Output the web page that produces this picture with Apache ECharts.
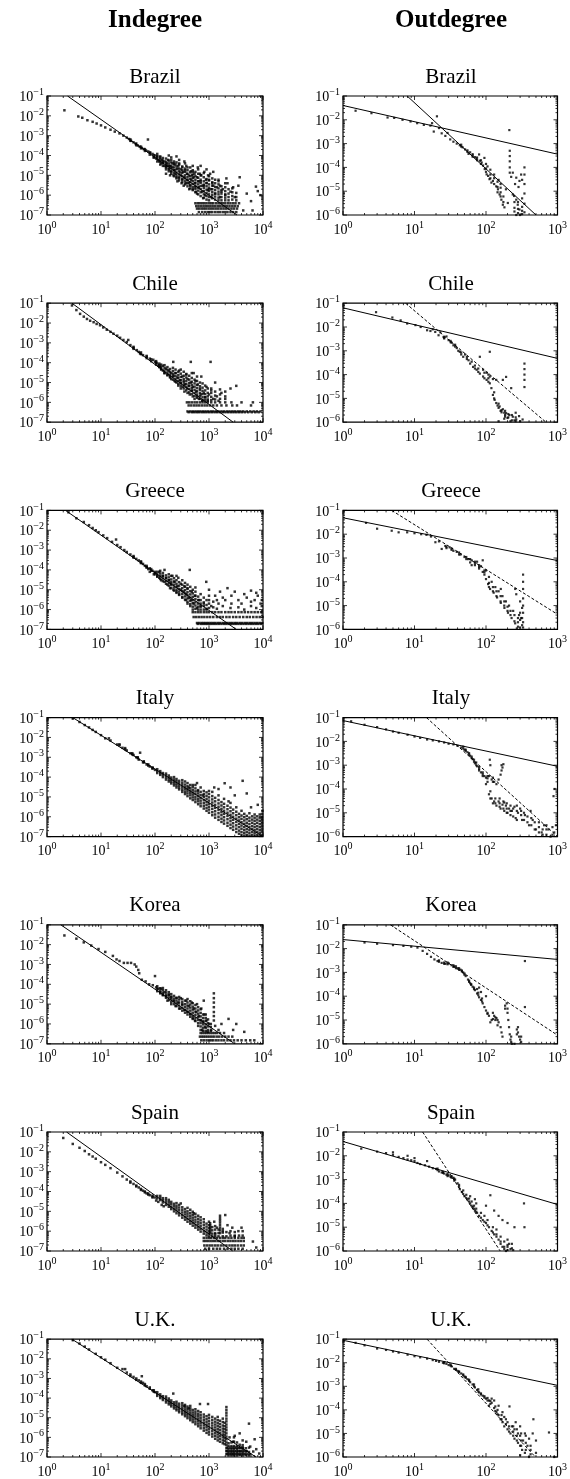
<!DOCTYPE html>
<html><head><meta charset="utf-8">
<script src="https://cdn.jsdelivr.net/npm/echarts@6/dist/echarts.min.js"></script>
<style>html,body{margin:0;padding:0;background:#fff}#c{width:570px;height:1479px}</style>
</head><body><div id="c"></div>
<script>
// ---------- labels ----------
const countries = ['Brazil','Chile','Greece','Italy','Korea','Spain','U.K.'];
const columnTitles = ['Indegree','Outdegree'];
const inTicksX = [1,10,100,1000,10000];
const inTicksY = [1e-7,1e-6,1e-5,1e-4,1e-3,1e-2,1e-1];
const outTicksX = [1,10,100,1000];
const outTicksY = [1e-6,1e-5,1e-4,1e-3,1e-2,1e-1];

// ---------- Brazil ----------
const brazilInPts = [[2.1,1.9e-2],[3.8,9.3e-3],[4.5,8e-3],[5.6,6e-3],[7,5e-3],[8.3,4.1e-3],[10,3.3e-3],[12,2.6e-3],[15,2e-3],[18,1.6e-3],[22,1.3e-3],[26,1e-3],[30,8e-4],[33,6.8e-4],[36,5.5e-4],[40,4.6e-4],[44,3.8e-4],[48,3.2e-4],[52,2.8e-4],[57,2.4e-4],[62,2.1e-4],[68,1.8e-4],[74,6.4e-4],[75,1.6e-4],[82,1.4e-4],[90,1.2e-4],[95,8e-5],[100,1e-4],[105,7e-5],[110,9e-5],[115,6e-5],[120,5e-5],[125,8e-5],[130,4e-5],[135,6e-5],[140,4.5e-5],[150,3e-5],[150,5e-5],[160,2.5e-5],[160,1.2e-5],[165,4e-5],[170,3e-5],[175,6e-5],[180,2e-5],[180,1e-4],[190,3e-5],[190,1e-5],[200,1.5e-5],[200,6e-5],[210,2.5e-5],[210,4e-5],[220,1e-5],[225,4e-5],[230,1.8e-5],[240,1.2e-5],[240,3.5e-5],[250,8e-6],[250,9e-5],[260,2.2e-5],[260,5e-6],[270,3e-5],[280,7e-6],[280,4e-5],[290,1.4e-5],[300,1e-5],[300,2e-5],[310,4e-6],[320,6e-6],[320,2.5e-5],[330,1.5e-5],[340,3e-6],[350,8e-6],[350,5e-5],[360,1.8e-5],[370,4e-6],[380,3e-5],[390,1.2e-5],[400,6e-6],[400,2.5e-5],[420,1e-5],[420,4e-6],[430,2e-6],[450,3e-6],[460,1.6e-5],[470,6e-6],[480,1e-5],[500,2e-6],[500,1.5e-5],[500,3e-5],[520,8e-6],[540,1.2e-5],[550,4e-6],[560,2.5e-6],[570,1.5e-6],[600,1.2e-6],[600,8e-6],[620,2.5e-5],[640,5e-6],[650,2.5e-6],[680,1.2e-5],[700,5e-6],[700,3e-5],[720,1e-5],[750,1.5e-6],[760,3e-6],[780,7e-7],[800,3e-6],[820,1.5e-5],[850,1e-6],[880,6e-6],[900,2e-5],[900,4e-6],[950,1.8e-6],[960,1e-5],[1000,2e-6],[1000,6e-6],[1050,1.2e-5],[1100,8e-7],[1100,2e-6],[1150,4e-6],[1200,3e-6],[1200,1.5e-5],[1300,1.2e-6],[1300,6e-6],[1400,2.5e-6],[1500,5e-6],[1600,8e-7],[1600,3e-6],[1700,1.5e-6],[1800,2e-6],[2000,1e-6],[2100,7e-6],[2200,4e-6],[2500,1.5e-6],[2800,2.5e-6],[3000,8e-7],[3500,3e-6],[3700,8e-6],[4300,1.7e-7],[5000,1.2e-6],[6000,5e-7],[6400,1.7e-7],[7400,2.7e-6],[8000,1.6e-6],[9000,1e-6]];
const brazilInRows = [[3.9e-7,[560,620,680,750,820,900,1000,1100,1200,1350,1500,1650,1800,2000,2250,2500,2800,3100,3600]],[2.8e-7,[580,640,710,790,870,960,1060,1170,1300,1450,1600,1780,1950,2150,2400,2700,3000,3400]],[2.1e-7,[600,660,730,800,880,980,1080,1200,1330,1480,1650,1850,2050,2300,2600,2900,3300]],[1.4e-7,[650,750,850,950,1050,1150,1300,1450,1600,1800,2000,2200,2500,2800,3200]]];
const brazilInCols = [[35,[5.5e-4,6.5e-4]],[45,[3.3e-4,4e-4]],[55,[2.3e-4,2.8e-4]],[65,[1.7e-4,2.1e-4]],[80,[1.1e-4,1.4e-4]],[95,[8e-5,1.05e-4]],[110,[5e-5,7e-5,9e-5,1.2e-4]],[125,[3.5e-5,5e-5,6.5e-5,9e-5]],[140,[3e-5,4e-5,5.5e-5,7.5e-5]],[160,[2e-5,2.8e-5,3.6e-5,4.8e-5,7e-5]],[180,[1.6e-5,2.2e-5,3e-5,4e-5,5.5e-5]],[200,[1.2e-5,1.7e-5,2.3e-5,3e-5,4.5e-5,8e-5]],[225,[9e-6,1.3e-5,1.8e-5,2.5e-5,3.5e-5,5e-5]],[250,[7e-6,1e-5,1.4e-5,2e-5,2.8e-5,4.5e-5]],[280,[5.5e-6,8e-6,1.1e-5,1.6e-5,2.2e-5,3.5e-5,6e-5]],[320,[4.5e-6,6.5e-6,9e-6,1.3e-5,1.8e-5,2.8e-5]],[360,[3.5e-6,5e-6,7e-6,1e-5,1.5e-5,2.2e-5,4e-5]],[400,[2.8e-6,4e-6,5.5e-6,8e-6,1.2e-5,1.8e-5]],[450,[2.2e-6,3.2e-6,4.5e-6,6.5e-6,9e-6,1.4e-5,2.5e-5]],[500,[1.8e-6,2.6e-6,3.7e-6,5.2e-6,7.5e-6,1.1e-5,1.8e-5]],[560,[1.4e-6,2.1e-6,3e-6,4.3e-6,6e-6,9e-6,1.5e-5]],[630,[1.1e-6,1.7e-6,2.4e-6,3.5e-6,5e-6,7.5e-6,1.2e-5,2e-5]],[700,[9e-7,1.4e-6,2e-6,2.9e-6,4.2e-6,6e-6,1e-5]],[800,[7.5e-7,1.1e-6,1.6e-6,2.3e-6,3.4e-6,5e-6,8e-6,1.3e-5]],[900,[6e-7,9e-7,1.3e-6,1.9e-6,2.8e-6,4.2e-6,6.5e-6]],[1000,[5.5e-7,8e-7,1.1e-6,1.6e-6,2.4e-6,3.5e-6,5.5e-6,9e-6]],[1150,[7e-7,1e-6,1.4e-6,2e-6,3e-6,4.5e-6,7e-6]],[1300,[6e-7,8.5e-7,1.2e-6,1.8e-6,2.6e-6,4e-6]],[1500,[5.5e-7,7.5e-7,1.1e-6,1.5e-6,2.2e-6,3.5e-6,6e-6]],[1700,[5.5e-7,8e-7,1.2e-6,1.8e-6,2.8e-6]],[2000,[5.5e-7,7.5e-7,1.1e-6,1.6e-6,2.5e-6,4e-6]],[2300,[5.5e-7,8e-7,1.2e-6,2e-6]],[2700,[6e-7,9e-7,1.4e-6,2.2e-6]],[3200,[5.5e-7,8e-7,1.3e-6]]];
const brazilInFit = [[2.4,0.1],[3300,1e-7]];
const brazilOutPts = [[1.5,2.4e-2],[2.5,1.9e-2],[4.2,1.25e-2],[5.2,1.2e-2],[6.8,1e-2],[8.8,8.5e-3],[10.9,7.2e-3],[13.5,6.1e-3],[16.7,5.7e-3],[17.6,7.2e-3],[18.6,3.2e-3],[20.6,1.4e-2],[22,4.5e-3],[24,2.7e-3],[27,2.1e-3],[29,2.8e-3],[31.6,1.5e-3],[35,1.2e-3],[39,1e-3],[43,8.5e-4],[47,7e-4],[51,5.7e-4],[57,3.7e-4],[60,4.3e-4],[65,3.2e-4],[70,2.7e-4],[74,2.3e-4],[80,3.5e-4],[82,1.9e-4],[87,1.6e-4],[91,1.2e-4],[95,2.5e-4],[96,8.5e-5],[102,5.1e-5],[105,1.1e-4],[107,4.4e-5],[112,3.2e-5],[115,8e-5],[119,2.3e-5],[125,2.7e-5],[130,5e-5],[139,1.6e-5],[147,1.2e-5],[150,3e-5],[155,7.3e-6],[160,2e-5],[164,4.4e-6],[172,2.7e-6],[181,2.1e-6],[190,1.2e-5],[202,3.2e-6],[212,3.7e-3],[215,5e-4],[215,3e-4],[215,1.8e-4],[215,1e-4],[215,6e-5],[225,4e-5],[237,7.3e-6],[237,6e-5],[247,6.3e-6],[255,2e-5],[265,4.4e-6],[265,3.7e-5],[265,1e-6],[278,2.7e-6],[285,1.5e-5],[294,1.7e-6],[294,2.7e-5],[300,1e-6],[310,5e-5],[320,3e-5],[345,1e-4],[345,5e-5],[345,2e-5],[345,8e-6],[345,3e-6],[345,1.3e-6]];
const brazilOutCols = [[45,[7.5e-4,9e-4]],[55,[4.5e-4,5.2e-4]],[65,[2.8e-4,3.6e-4]],[75,[2e-4,2.6e-4]],[85,[1.4e-4,2e-4]],[100,[6.5e-5,9e-5,1.4e-4]],[115,[3.5e-5,5e-5]],[130,[2e-5,3.5e-5]],[145,[9e-6,1.5e-5,2.5e-5]],[160,[6e-6,9e-6,1.4e-5]],[175,[3.5e-6,6e-6]],[250,[1.4e-6,2e-6,3.5e-6]],[280,[1.2e-6,1.8e-6,3.5e-6]],[320,[1.1e-6,1.5e-6,2.2e-6,5e-6]]];
const brazilOutFitA = [[1,4e-2],[1000,3.6e-4]];
const brazilOutFitB = [[7.9,0.1],[500,1e-6]];

// ---------- Chile ----------
const chileInPts = [[2.9,7.7e-2],[3.5,4.5e-2],[4.1,2.9e-2],[4.8,2.1e-2],[5.5,1.6e-2],[6.3,1.3e-2],[7.3,1.1e-2],[8.3,9e-3],[9.6,7.7e-3],[11,6e-3],[12.8,4.6e-3],[15,3.6e-3],[17,2.9e-3],[20,2.3e-3],[22.6,1.8e-3],[26,1.4e-3],[30,1.1e-3],[32,1.4e-3],[35,7.7e-4],[40,5.7e-4],[46,4.3e-4],[50,3.5e-4],[53,2.9e-4],[60,2.4e-4],[70,2e-4],[80,1.6e-4],[93,1.4e-4],[100,1.1e-4],[107,9.6e-5],[115,7e-5],[123,6.3e-5],[130,5e-5],[140,4e-5],[140,7e-5],[150,3e-5],[160,5e-5],[170,2.5e-5],[180,4e-5],[190,2e-5],[200,1.5e-5],[200,3e-5],[218,1.1e-4],[220,2.2e-5],[230,1.2e-5],[240,3e-5],[250,1e-5],[260,1.8e-5],[270,7e-6],[280,4e-5],[290,1.3e-5],[300,5e-6],[300,9e-6],[320,2e-5],[330,6e-6],[340,1.2e-5],[350,3.5e-6],[360,8e-6],[380,2.5e-5],[390,5e-6],[400,3e-6],[400,1.5e-5],[420,7e-6],[440,2.5e-6],[460,1.1e-4],[460,1e-5],[480,4e-6],[500,2e-6],[500,6e-6],[520,3e-5],[540,1.5e-6],[560,1.2e-5],[580,3.5e-6],[600,2e-6],[620,8e-6],[650,1.5e-6],[680,5e-6],[700,2.5e-6],[720,2e-5],[750,1.2e-6],[800,3e-6],[850,1.8e-6],[900,6e-6],[950,1.2e-6],[1000,2.5e-6],[1070,1.1e-4],[1100,4e-6],[1200,1.5e-6],[1300,1e-5],[1400,2e-6],[1500,1.2e-6],[1700,3e-6],[2000,1.5e-6],[2500,5e-6],[3200,6.8e-6],[4000,1e-6],[6000,7e-7],[6500,1e-6]];
const chileInRows = [[1e-6,[390,430,480,540,600,680,760,850,950,1100,1300,1600,2000,2600]],[7e-7,[420,470,530,590,660,740,830,930,1050,1200,1400,1700,2100,2700,3300]],[3.5e-7,[400,450,500,560,620,690,770,860,960,1080,1200,1350,1500,1700,1900,2150,2400,2700,3000,3400,3800,4300,5000,5800,6700,7700,9000]],[3.2e-7,[420,480,530,590,650,730,810,900,1010,1130,1270,1420,1600,1800,2020,2270,2550,2850,3200,3600,4050,4600,5300,6200,7200,8300]]];
const chileInCols = [[40,[5e-4,6.3e-4]],[55,[2.7e-4,3.3e-4]],[70,[1.7e-4,2.2e-4]],[85,[1.2e-4,1.5e-4]],[105,[8e-5,1e-4,1.2e-4]],[120,[6e-5,7.5e-5,9e-5]],[130,[4.5e-5,6e-5,8e-5]],[150,[3e-5,4e-5,5.5e-5,7.5e-5]],[170,[2.3e-5,3.2e-5,4.3e-5,6e-5]],[190,[1.8e-5,2.5e-5,3.4e-5,4.8e-5]],[215,[1.4e-5,2e-5,2.7e-5,3.8e-5,5.5e-5]],[240,[1.1e-5,1.5e-5,2.1e-5,3e-5,4.5e-5]],[270,[8.5e-6,1.2e-5,1.7e-5,2.4e-5,3.5e-5]],[300,[6.5e-6,9.5e-6,1.3e-5,1.9e-5,2.8e-5,4.5e-5]],[340,[5e-6,7.5e-6,1e-5,1.5e-5,2.2e-5,3.5e-5]],[380,[4e-6,6e-6,8.5e-6,1.2e-5,1.8e-5,2.7e-5]],[430,[3.2e-6,4.7e-6,6.7e-6,9.5e-6,1.4e-5,2.2e-5]],[480,[2.6e-6,3.8e-6,5.4e-6,7.7e-6,1.1e-5,1.7e-5,3e-5]],[540,[2.1e-6,3e-6,4.3e-6,6.2e-6,9e-6,1.4e-5]],[600,[1.7e-6,2.5e-6,3.6e-6,5.2e-6,7.5e-6,1.2e-5,2e-5]],[680,[1.5e-6,2.1e-6,3e-6,4.3e-6,6.5e-6,1e-5]],[760,[1.3e-6,1.8e-6,2.6e-6,3.8e-6,5.5e-6,9e-6]],[850,[1.3e-6,1.8e-6,2.6e-6,4e-6,7e-6]],[950,[1.4e-6,2e-6,3e-6,5e-6]],[1100,[1.3e-6,1.9e-6,3e-6,5e-6]],[1300,[1.4e-6,2.2e-6,3.5e-6]],[1600,[1.5e-6,2.5e-6,4.5e-6]],[2000,[2e-6,3.5e-6]]];
const chileInFit = [[2.9,0.1],[2800,1e-7]];
const chileOutPts = [[2.9,4.2e-2],[4.9,2.5e-2],[6.4,1.9e-2],[7.9,1.4e-2],[10.3,1.2e-2],[12.2,1e-2],[15,7.3e-3],[16.7,6.8e-3],[18,8e-3],[19.5,6.2e-3],[21.7,4.5e-3],[23,6e-3],[25.5,3.8e-3],[28,4e-3],[30,2.8e-3],[33,2.2e-3],[35,1.7e-3],[39,1.3e-3],[41,1e-3],[43,9.1e-4],[48,5.6e-4],[51,7e-4],[57,4e-4],[60,2.9e-4],[63,3.5e-4],[66,2.1e-4],[74,1.6e-4],[82,1.1e-4],[82,5.6e-4],[91,8.3e-5],[91,1.6e-4],[102,6e-5],[102,1.2e-4],[113,4.3e-5],[113,8.3e-5],[113,9.1e-4],[119,2.7e-5],[125,1.4e-5],[125,6.5e-5],[132,8.7e-6],[139,6.4e-6],[139,6e-5],[145,5e-6],[150,1.1e-6],[155,4.6e-6],[160,3e-6],[172,3.5e-6],[172,6e-5],[180,2.5e-6],[180,1.4e-6],[191,2.4e-6],[191,8e-5],[200,1.5e-6],[212,2e-6],[220,1.1e-6],[225,2.7e-5],[237,1.7e-6],[250,1.2e-6],[265,1.3e-6],[290,1.8e-6],[300,1.1e-6],[325,1.3e-6],[345,2.9e-4],[345,1.7e-4],[345,1e-4],[345,6e-5],[345,3e-5]];
const chileOutCols = [[26,[3.3e-3,3.6e-3]],[32,[2.3e-3,2.6e-3]],[37,[1.5e-3,1.8e-3]],[45,[7e-4,8.5e-4]],[54,[4.5e-4,5.5e-4]],[70,[1.8e-4,2.4e-4]],[78,[1.3e-4,1.8e-4]],[95,[7e-5,1.2e-4]],[108,[5e-5,7e-5,1e-4]],[130,[1e-5,1.8e-5]],[150,[4e-6,6e-6]],[165,[2.6e-6,3.2e-6]],[185,[1.7e-6,2e-6,3e-6]],[205,[1.6e-6,2.2e-6]],[230,[1.2e-6,2e-6]],[260,[1.1e-6,1.6e-6,2.5e-6]]];
const chileOutFitA = [[1,6.4e-2],[1000,4.8e-4]];
const chileOutFitB = [[7.5,0.1],[690,1e-6]];

// ---------- Greece ----------
const greeceInPts = [[2.5,8e-2],[3.5,4e-2],[4.8,2.6e-2],[6,1.8e-2],[7,1.3e-2],[8,1e-2],[9,8e-3],[11,5.5e-3],[13,4e-3],[16,2.6e-3],[19,3.4e-3],[20,1.8e-3],[23,1.4e-3],[27,1e-3],[30,8e-4],[35,6e-4],[40,4.5e-4],[45,3.6e-4],[50,3e-4],[55,2.4e-4],[60,2e-4],[65,1.6e-4],[70,1.4e-4],[75,1.1e-4],[80,1.2e-4],[80,8e-5],[90,9e-5],[95,6e-5],[100,7e-5],[110,5e-5],[120,4e-5],[120,8e-5],[130,3e-5],[140,5e-5],[150,2.5e-5],[150,1e-4],[160,4e-5],[170,1.8e-5],[180,3e-5],[190,1.2e-5],[200,2e-5],[210,5e-5],[220,1e-5],[230,2.5e-5],[250,8e-6],[260,1.5e-5],[270,4e-5],[280,6e-6],[300,1e-5],[300,2e-5],[320,4e-6],[340,8e-6],[350,1.5e-5],[370,3e-6],[380,6e-6],[400,2e-6],[400,1.2e-5],[420,4e-6],[440,1e-4],[450,1.5e-6],[470,3e-6],[480,8e-6],[500,1e-6],[520,2e-6],[550,5e-6],[600,1.2e-6],[650,3e-6],[700,1.5e-6],[800,2e-6],[890,2.5e-5],[900,1e-6],[1000,3e-6],[1000,1e-5],[1100,1.5e-6],[1300,5e-6],[1500,2e-6],[1600,8e-6],[2000,3e-6],[2200,1.2e-5],[2500,1.2e-6],[3000,8e-6],[4000,2e-6],[5000,4e-6],[6000,1.5e-6],[7000,3e-6],[8000,5e-6],[9000,2e-6]];
const greeceInRows = [[7.4e-7,[500,560,630,700,800,900,1000,1150,1300,1500,1700,2000,2300,2600,3000,3500,4000,4600,5300,6100,7000,8000,9200]],[4.2e-7,[520,580,650,730,820,930,1050,1200,1400,1600,1800,2100,2400,2800,3200,3700,4300,5000,5700,6600,7600,8700,9800]],[2.1e-7,[600,660,730,800,880,970,1070,1180,1300,1450,1600,1800,2000,2200,2450,2700,3000,3300,3700,4100,4600,5100,5700,6300,7000,7800,8700,9700]],[1.9e-7,[620,700,770,850,930,1020,1120,1240,1370,1520,1700,1900,2100,2330,2580,2850,3150,3500,3900,4350,4850,5400,6000,6650,7400,8200,9200]]];
const greeceInCols = [[40,[4.2e-4,5e-4]],[55,[2.2e-4,2.7e-4]],[70,[1.3e-4,1.6e-4]],[85,[9e-5,1.1e-4]],[100,[6e-5,8e-5]],[110,[4.5e-5,6e-5,8e-5]],[125,[3.5e-5,4.8e-5,6.5e-5,9e-5]],[140,[2.7e-5,3.7e-5,5e-5,7e-5]],[160,[2e-5,2.8e-5,3.8e-5,5.3e-5]],[180,[1.6e-5,2.2e-5,3e-5,4.2e-5,6e-5]],[200,[1.2e-5,1.7e-5,2.4e-5,3.3e-5,5e-5]],[225,[9e-6,1.3e-5,1.8e-5,2.6e-5,3.8e-5]],[250,[7e-6,1e-5,1.4e-5,2e-5,3e-5,5e-5]],[280,[5.5e-6,8e-6,1.1e-5,1.6e-5,2.4e-5]],[320,[4.2e-6,6e-6,8.5e-6,1.2e-5,1.8e-5,3e-5]],[360,[3.2e-6,4.6e-6,6.5e-6,9.5e-6,1.4e-5,2.2e-5]],[400,[2.5e-6,3.6e-6,5.2e-6,7.5e-6,1.1e-5,1.8e-5]],[450,[1.9e-6,2.8e-6,4e-6,5.8e-6,8.5e-6,1.4e-5]],[500,[1.4e-6,2.1e-6,3e-6,4.4e-6,6.5e-6,1e-5]],[560,[1.1e-6,1.6e-6,2.3e-6,3.4e-6,5e-6,8e-6,1.3e-5]],[630,[1e-6,1.4e-6,2e-6,3e-6,4.5e-6]],[700,[1e-6,1.4e-6,2e-6,3e-6,6e-6]],[800,[1e-6,1.5e-6,2.3e-6,4e-6]],[900,[1.1e-6,1.7e-6,3e-6]],[1000,[1.2e-6,2e-6,5e-6]],[1200,[1.3e-6,2.5e-6]],[1400,[1.1e-6,3e-6]],[1800,[1.5e-6,4e-6]],[2600,[2e-6,5e-6]],[3500,[1.3e-6,3e-6]],[4500,[1e-6,6e-6]],[6000,[2.5e-6,9e-6]],[7500,[1.2e-6,7e-6]],[9500,[3e-6,1.5e-6]]];
const greeceInFit = [[2.2,0.1],[3200,1e-7]];
const greeceOutPts = [[2.1,3e-2],[3,1.7e-2],[4.8,1.4e-2],[6,1.2e-2],[7.9,1.2e-2],[10,1.1e-2],[12.4,1e-2],[14.7,9.4e-3],[17,8e-3],[19.6,4.6e-3],[22,5e-3],[24,2.4e-3],[27,3.2e-3],[31,2.8e-3],[35,2e-3],[39,1.8e-3],[44,1.4e-3],[50,1.1e-3],[56,9e-4],[63,8e-4],[63,5e-4],[70,5e-4],[75,7e-4],[80,3.6e-4],[85,4.5e-4],[90,2.6e-4],[90,8e-4],[95,2e-4],[100,1.3e-4],[100,3e-4],[107,8e-5],[114,5e-5],[120,1e-4],[128,3.5e-5],[135,6e-5],[143,2.2e-5],[150,4e-5],[161,1.3e-5],[161,5e-5],[170,2.5e-5],[181,8e-6],[190,1.5e-5],[203,5e-6],[210,1e-5],[228,3e-6],[240,6e-6],[256,1.8e-6],[256,5e-5],[265,3e-5],[270,1.1e-6],[280,2e-6],[290,4e-6],[300,1.5e-5],[300,1.2e-6],[310,3e-6],[320,8e-6],[330,2e-4],[330,1e-4],[330,5e-5],[330,2e-5],[330,1e-5],[330,5e-6],[330,2e-6],[330,1.2e-6]];
const greeceOutCols = [[28,[2.6e-3,3e-3]],[33,[2.2e-3,2.5e-3]],[42,[1.4e-3,1.7e-3]],[53,[9e-4,1.1e-3]],[60,[6.5e-4,9e-4]],[70,[6e-4,7e-4]],[80,[4.2e-4,5e-4]],[95,[2.5e-4,3e-4]],[110,[6e-5,9e-5,1.6e-4]],[125,[4e-5,6e-5]],[140,[2.5e-5,4e-5]],[160,[1.5e-5,2.5e-5]],[180,[1e-5,1.5e-5]],[200,[6e-6,9e-6]],[220,[4e-6,6e-6]],[250,[2.2e-6,4e-6]],[280,[1.3e-6,3e-6]],[300,[2.5e-6,5e-6]],[320,[3e-6,1.5e-6]]];
const greeceOutFitA = [[1,4.9e-2],[1000,7.8e-4]];
const greeceOutFitB = [[4.8,0.1],[1000,4.3e-6]];

// ---------- Italy ----------
const italyInPts = [[3,9e-2],[4,6e-2],[5,4.2e-2],[6,3.2e-2],[7,2.4e-2],[8,1.9e-2],[10,1.3e-2],[12,9e-3],[14,9e-3],[15,7e-3],[20,4.4e-3],[25,3e-3],[30,2.2e-3],[35,1.6e-3],[40,1.3e-3],[45,1e-3],[53,1.7e-3],[50,7.6e-4],[60,5.6e-4],[70,4.3e-4],[80,3.4e-4],[90,2.8e-4],[100,2.3e-4],[420,3e-5],[500,4e-5],[600,5e-5],[620,2e-5],[700,3e-5],[780,1.2e-5],[1000,2e-5],[1250,3e-5],[1500,2.5e-5],[1950,4.9e-5],[2300,6e-6],[2500,3e-5],[4200,6.5e-5],[5000,1.5e-5],[8000,4e-6],[9800,2e-6],[3000,1.2e-5],[6000,3e-6]];
const italyInCols = [[22,[4e-3,4.5e-3]],[28,[2.5e-3,2.9e-3]],[38,[1.4e-3,1.6e-3]],[48,[9e-4,1e-3]],[62,[5.5e-4,6.3e-4]],[75,[3.8e-4,4.4e-4]],[90,[2.7e-4,3.1e-4]],[110,[1.6e-4,2e-4,2.5e-4]],[125,[1.3e-4,1.6e-4,2e-4]],[140,[1e-4,1.3e-4,1.6e-4]],[160,[7.5e-5,9.5e-5,1.2e-4,1.5e-4]],[180,[6e-5,7.5e-5,9.5e-5,1.2e-4]],[200,[4.8e-5,6e-5,7.5e-5,9.5e-5]],[225,[3.8e-5,4.8e-5,6e-5,7.6e-5,1e-4]],[250,[3e-5,3.8e-5,4.8e-5,6.2e-5,8e-5]],[280,[2.4e-5,3e-5,3.8e-5,5e-5,6.5e-5]],[320,[1.8e-5,2.3e-5,3e-5,3.9e-5,5.2e-5,7e-5]],[360,[1.4e-5,1.8e-5,2.4e-5,3.1e-5,4.2e-5,6e-5]],[400,[1.1e-5,1.5e-5,2e-5,2.6e-5,3.5e-5,5e-5]],[450,[8.5e-6,1.2e-5,1.6e-5,2.1e-5,2.8e-5,4e-5]],[500,[7e-6,9.5e-6,1.3e-5,1.7e-5,2.3e-5,3.2e-5]],[560,[5.5e-6,7.5e-6,1e-5,1.4e-5,1.9e-5,2.7e-5,4e-5]],[630,[4.3e-6,6e-6,8e-6,1.1e-5,1.5e-5,2.2e-5]],[700,[3.4e-6,4.7e-6,6.5e-6,9e-6,1.25e-5,1.8e-5]],[800,[2.6e-6,3.6e-6,5e-6,7e-6,1e-5,1.4e-5,2e-5]],[900,[2e-6,2.8e-6,4e-6,5.6e-6,8e-6,1.15e-5,1.7e-5]],[1000,[1.6e-6,2.3e-6,3.2e-6,4.5e-6,6.5e-6,9.5e-6,1.4e-5]],[1150,[1.2e-6,1.7e-6,2.5e-6,3.6e-6,5.2e-6,7.5e-6,1.1e-5,1.8e-5]],[1300,[9e-7,1.3e-6,1.9e-6,2.8e-6,4e-6,6e-6,9e-6]],[1500,[7e-7,1e-6,1.5e-6,2.2e-6,3.2e-6,4.7e-6,7e-6,1.2e-5]],[1700,[5.5e-7,8e-7,1.2e-6,1.7e-6,2.5e-6,3.7e-6,5.5e-6]],[1900,[4.5e-7,6.5e-7,9.5e-7,1.4e-6,2e-6,3e-6,4.5e-6,8e-6]],[2200,[3.5e-7,5e-7,7.5e-7,1.1e-6,1.6e-6,2.4e-6,3.6e-6]],[2500,[2.7e-7,4e-7,6e-7,8.5e-7,1.25e-6,1.9e-6,2.9e-6,5e-6]],[2800,[2.2e-7,3.2e-7,4.7e-7,7e-7,1e-6,1.5e-6,2.3e-6]],[3200,[1.7e-7,2.5e-7,3.7e-7,5.5e-7,8e-7,1.2e-6,1.8e-6,3e-6]],[3600,[1.4e-7,2e-7,3e-7,4.4e-7,6.5e-7,9.5e-7,1.4e-6]],[4000,[1.2e-7,1.7e-7,2.5e-7,3.6e-7,5.3e-7,7.8e-7,1.15e-6,2e-6]],[4500,[1.1e-7,1.5e-7,2.1e-7,3e-7,4.4e-7,6.5e-7,9.5e-7,1.4e-6]],[5000,[1.2e-7,1.7e-7,2.4e-7,3.5e-7,5e-7,7.5e-7,1.1e-6]],[5600,[1.1e-7,1.5e-7,2.1e-7,3e-7,4.3e-7,6.3e-7,9e-7,1.5e-6]],[6300,[1.2e-7,1.7e-7,2.4e-7,3.4e-7,5e-7,7.2e-7,1.05e-6]],[7000,[1.1e-7,1.5e-7,2.1e-7,3e-7,4.3e-7,6.3e-7,9e-7,1.3e-6]],[7800,[1.2e-7,1.7e-7,2.4e-7,3.4e-7,5e-7,7.2e-7,1.05e-6]],[8700,[1.1e-7,1.5e-7,2.1e-7,3e-7,4.3e-7,6.3e-7,9e-7,1.3e-6]],[9600,[1.2e-7,1.7e-7,2.4e-7,3.4e-7,5e-7,7.2e-7,1e-6,1.4e-6]]];
const italyInFit = [[3,0.1],[10000,1e-7]];
const italyOutPts = [[1.3,7e-2],[2,5e-2],[3,4e-2],[4,3.2e-2],[5,2.6e-2],[6,2.3e-2],[8,1.9e-2],[10,1.6e-2],[12,1.4e-2],[15,1.2e-2],[18,1.1e-2],[22,1e-2],[26,9e-3],[30,8e-3],[35,7.5e-3],[40,6.5e-3],[45,5.5e-3],[50,4.5e-3],[55,3.5e-3],[60,2.5e-3],[65,1.8e-3],[70,1.2e-3],[75,9e-4],[80,7e-4],[85,5e-4],[90,4.2e-4],[95,3.5e-4],[100,3e-4],[110,3.5e-4],[113,1.7e-3],[115,1e-3],[120,2.5e-4],[130,2e-4],[140,1.6e-4],[150,2.5e-4],[160,4e-4],[170,8e-4],[175,1.1e-3],[100,1.6e-4],[110,6e-5],[120,4e-5],[125,2.5e-5],[130,3e-5],[140,2e-5],[150,3e-5],[160,1.5e-5],[170,2.2e-5],[180,1.2e-5],[180,2.7e-5],[190,2e-5],[200,1e-5],[210,1.5e-5],[220,8e-6],[230,1.2e-5],[250,1.8e-5],[260,6e-6],[280,1e-5],[300,1.5e-5],[320,5e-6],[350,8e-6],[400,3e-6],[420,1.2e-5],[450,5e-6],[500,2e-6],[550,4e-6],[600,1.5e-6],[650,3e-6],[700,1.2e-6],[750,2e-6],[800,1e-6],[900,1.5e-6],[910,1e-4],[950,3e-6],[880,5e-5]];
const italyOutCols = [[48,[5e-3,6e-3]],[52,[4e-3,4.5e-3]],[58,[2.8e-3,3.2e-3]],[63,[2e-3,2.3e-3]],[68,[1.4e-3,1.7e-3]],[73,[1e-3,1.3e-3]],[80,[6e-4,8.5e-4]],[90,[3.5e-4,5e-4]],[105,[2e-4,2.8e-4,3.5e-4]],[125,[2e-4,3e-4]],[165,[6e-4,1e-3]],[115,[4e-5,8e-5]],[135,[2.5e-5,4e-5]],[155,[1.8e-5,2.5e-5,4e-5]],[175,[1.5e-5,3e-5]],[195,[1e-5,1.5e-5,2.5e-5]],[220,[1.2e-5,2e-5]],[240,[7e-6,1.5e-5]],[270,[5e-6,1.2e-5,2e-5]],[310,[8e-6,1.2e-5]],[340,[5e-6,1e-5]],[380,[4e-6,7e-6]],[430,[3e-6,6e-6]],[480,[2e-6,4e-6]],[550,[1.5e-6,2.5e-6]],[620,[1.2e-6,2e-6]],[700,[2e-6,3e-6]],[850,[1.2e-6,2.5e-6]]];
const italyOutFitA = [[1,7.5e-2],[1000,9e-4]];
const italyOutFitB = [[14.7,0.1],[1000,1e-6]];

// ---------- Korea ----------
const koreaInPts = [[2.1,2.9e-2],[3.5,2e-2],[4.8,1.3e-2],[6.6,9e-3],[9,6e-3],[12,4.3e-3],[16.6,2.7e-3],[19.4,1.8e-3],[22,1.5e-3],[26.5,1.2e-3],[31,1.2e-3],[36,1.2e-3],[42,1e-3],[45,7.8e-4],[49,5.3e-4],[51,3.6e-4],[57,1.7e-4],[67,1.4e-4],[78,1e-4],[91,9e-5],[100,2.6e-4],[105,7e-5],[115,6e-5],[125,4e-5],[130,6e-5],[140,3e-5],[150,4e-5],[160,2.5e-5],[170,1.5e-5],[180,3e-5],[200,2.2e-5],[200,1e-5],[220,1.5e-5],[240,8e-6],[250,2e-5],[270,1.2e-5],[290,6e-6],[300,2e-5],[320,1e-5],[350,5e-6],[380,1.5e-5],[400,4e-6],[420,8e-6],[450,3e-6],[480,1.2e-5],[500,2e-6],[520,6e-6],[550,1.5e-6],[580,4e-6],[600,1e-5],[630,8e-7],[650,2.5e-6],[700,1.5e-6],[720,6e-6],[750,5e-7],[780,1.2e-6],[800,1.5e-5],[820,3e-6],[850,7e-7],[900,1.5e-6],[950,4e-7],[1000,1e-6],[1100,5e-7],[1230,3.5e-5],[1230,2e-5],[1230,1.2e-5],[1230,7e-6],[1230,4e-6],[1230,2.5e-6],[1230,1.5e-6],[1300,8e-7],[1500,5e-7],[1700,1e-6],[2300,1.8e-6],[3200,1e-6],[2800,5e-7],[4500,4e-7],[6900,1.5e-7]];
const koreaInRows = [[3.5e-7,[700,760,830,900,980,1070,1170,1280,1400,1600,1900]],[2.3e-7,[680,740,800,870,950,1040,1140,1250,1400,1550,1750,2000,2300,2700]],[1.5e-7,[720,800,900,1000,1100,1200,1350,1500,1700,1900,2200,2500,2900,3400,4000,4800,5800]]];
const koreaInCols = [[110,[4.5e-5,6e-5,8e-5]],[125,[3.5e-5,4.7e-5,6.3e-5]],[140,[2.8e-5,3.7e-5,5e-5,6.5e-5]],[160,[2.1e-5,2.8e-5,3.8e-5,5e-5]],[180,[1.6e-5,2.2e-5,3e-5,4e-5]],[200,[1.3e-5,1.8e-5,2.4e-5,3.2e-5]],[225,[1e-5,1.4e-5,1.9e-5,2.6e-5]],[250,[8e-6,1.1e-5,1.5e-5,2.1e-5]],[280,[6e-6,8.5e-6,1.2e-5,1.7e-5,2.3e-5]],[320,[4.7e-6,6.5e-6,9e-6,1.3e-5,1.8e-5]],[360,[3.7e-6,5.2e-6,7.3e-6,1e-5,1.5e-5]],[400,[3e-6,4.2e-6,6e-6,8.5e-6,1.2e-5,1.8e-5]],[450,[2.3e-6,3.3e-6,4.7e-6,6.7e-6,9.5e-6,1.4e-5]],[500,[1.8e-6,2.6e-6,3.7e-6,5.3e-6,7.5e-6,1.1e-5]],[560,[1.4e-6,2e-6,2.9e-6,4.2e-6,6e-6,9e-6]],[630,[1.1e-6,1.6e-6,2.3e-6,3.3e-6,4.8e-6,7e-6]],[700,[5e-7,7.5e-7,1.1e-6,1.6e-6,2.4e-6,3.6e-6,5.5e-6]],[780,[4.5e-7,6.5e-7,9.5e-7,1.4e-6,2e-6,3e-6]],[870,[4.5e-7,6.5e-7,9.5e-7,1.4e-6,2e-6,3e-6]],[960,[5e-7,7.5e-7,1.1e-6,1.7e-6]],[1080,[4.5e-7,7e-7,1e-6]]];
const koreaInFit = [[1.8,0.1],[3000,1e-7]];
const koreaOutPts = [[2,1.8e-2],[3,1.6e-2],[5,1.4e-2],[7,1.3e-2],[9,1.2e-2],[11,1.1e-2],[13,8e-3],[15,6e-3],[17,4.5e-3],[19,3.5e-3],[21,3e-3],[24,2.5e-3],[27,2.3e-3],[30,2.4e-3],[33,2e-3],[36,1.8e-3],[40,1.5e-3],[44,1.3e-3],[48,1e-3],[52,7e-4],[56,5e-4],[60,3.5e-4],[65,2.5e-4],[70,1.8e-4],[75,1.3e-4],[75,2e-4],[80,9e-5],[80,2.3e-4],[85,7e-5],[85,1.5e-4],[90,5e-5],[95,3.5e-5],[100,2.5e-5],[100,1e-4],[110,1.5e-5],[115,8e-6],[120,1e-5],[130,1.5e-5],[140,1.2e-5],[150,8e-6],[160,5e-6],[165,3e-6],[170,2e-6],[195,5e-5],[200,3e-5],[200,2e-5],[205,1e-5],[210,5e-6],[215,2.5e-6],[220,1.5e-6],[230,1e-6],[250,1e-6],[280,5e-6],[280,3e-6],[290,2e-6],[300,1.5e-6],[350,3e-3],[350,3.5e-5]];
const koreaOutCols = [[22,[2.8e-3,3.2e-3]],[26,[2.3e-3,2.6e-3]],[29,[2.2e-3,2.6e-3]],[35,[1.7e-3,2e-3]],[38,[1.5e-3,1.8e-3]],[42,[1.3e-3,1.5e-3]],[46,[1.1e-3,1.2e-3]],[50,[8e-4,9e-4]],[58,[4e-4,4.5e-4]],[62,[3e-4,3.2e-4]],[68,[2e-4,2.3e-4]],[78,[1.1e-4,1.4e-4]],[88,[6e-5,8e-5]],[105,[1.8e-5,2e-5]],[125,[1.1e-5,2e-5]],[135,[1e-5,1.3e-5]],[145,[6e-6,1e-5]],[185,[3e-5,4e-5]],[225,[1.2e-6,2e-6]],[270,[2.5e-6,4e-6]],[310,[1.2e-6,2e-6]]];
const koreaOutFitA = [[1,2.4e-2],[1000,3.5e-3]];
const koreaOutFitB = [[4.6,0.1],[1000,2.3e-6]];

// ---------- Spain ----------
const spainInPts = [[2,5e-2],[3,2.5e-2],[4,1.6e-2],[5,1.1e-2],[6,7.5e-3],[7,5.8e-3],[8,4.5e-3],[10,3e-3],[12,2.2e-3],[15,1.5e-3],[20,9e-4],[25,5.8e-4],[30,4e-4],[40,2.4e-4],[50,1.6e-4],[60,1.1e-4],[70,8e-5],[80,6.5e-5],[90,5e-5],[100,5e-5],[105,3.5e-5],[115,3e-5],[133,2.1e-5],[145,1.8e-5],[300,2.5e-5],[520,8e-6],[1250,3e-6],[1300,7e-7],[1400,1.5e-6],[1800,1e-6],[2000,6.5e-6],[2200,2e-6],[2400,8e-7],[2700,1.5e-6],[3000,6e-7],[3500,1e-6],[4000,1.5e-6],[6500,3e-7],[7500,1.5e-7]];
const spainInRows = [[4.6e-7,[800,900,1000,1100,1250,1400,1600,1800,2000,2300,2600,3000,3500,4000,4400]],[3.2e-7,[800,880,970,1070,1180,1300,1450,1600,1800,2000,2250,2500,2800,3100,3500,3900,4400]],[1.9e-7,[820,920,1030,1150,1300,1450,1650,1850,2100,2400,2700,3000,3400,3900,4400]],[1.3e-7,[850,1000,1200,1400,1600,1900,2200,2600,3000,3500,4200]]];
const spainInCols = [[1050,[2.5e-6,2e-6,1.6e-6,1.3e-6,1e-6,8e-7]],[1600,[6e-6,4.5e-6,3.5e-6,2.7e-6,2e-6,1.5e-6,1.1e-6,8e-7]],[35,[2.8e-4,3.2e-4]],[45,[1.8e-4,2e-4]],[55,[1.2e-4,1.35e-4]],[65,[9e-5,1e-4]],[75,[7e-5,8e-5]],[90,[5.5e-5,6.2e-5]],[110,[4.5e-5,6e-5]],[125,[3.7e-5,4.7e-5,6e-5]],[140,[2.8e-5,3.6e-5,4.6e-5]],[160,[2.1e-5,2.8e-5,3.6e-5,4.6e-5]],[180,[1.7e-5,2.2e-5,2.9e-5,3.8e-5]],[200,[1.3e-5,1.7e-5,2.3e-5,3e-5]],[225,[1e-5,1.35e-5,1.8e-5,2.4e-5]],[250,[8e-6,1.1e-5,1.45e-5,1.9e-5,2.6e-5]],[280,[6.3e-6,8.5e-6,1.15e-5,1.55e-5,2.1e-5]],[320,[4.8e-6,6.5e-6,8.8e-6,1.2e-5,1.6e-5]],[360,[3.8e-6,5.1e-6,7e-6,9.5e-6,1.3e-5]],[400,[3e-6,4.1e-6,5.6e-6,7.6e-6,1e-5,1.5e-5]],[450,[2.4e-6,3.2e-6,4.4e-6,6e-6,8.2e-6,1.2e-5]],[500,[1.9e-6,2.6e-6,3.5e-6,4.8e-6,6.6e-6,9.5e-6]],[560,[1.5e-6,2e-6,2.8e-6,3.8e-6,5.3e-6,7.5e-6]],[630,[1.2e-6,1.6e-6,2.2e-6,3e-6,4.2e-6,6e-6]],[700,[9.5e-7,1.3e-6,1.8e-6,2.5e-6,3.5e-6,5e-6]],[800,[7.5e-7,1e-6,1.4e-6,2e-6,2.8e-6,4e-6]],[900,[6.2e-7,8.5e-7,1.2e-6,1.7e-6,2.4e-6]],[1000,[5.5e-7,7.5e-7,1e-6,1.4e-6,2e-6,3e-6]],[1150,[5.5e-7,7.5e-7,1.1e-6,1.6e-6]],[1300,[5.5e-7,8e-7,1.2e-6,1.8e-6]],[1500,[5.5e-7,8e-7,1.2e-6]],[1800,[5.5e-7,8.5e-7,1.3e-6]],[2100,[5.5e-7,9e-7]],[2500,[6e-7,1e-6]],[3000,[5.5e-7,9e-7]],[3600,[6e-7]],[4200,[6e-7,1e-6]]];
const spainInFit = [[2.3,0.1],[2750,1e-7]];
const spainOutPts = [[1.8,2e-2],[3,1.5e-2],[4,1.3e-2],[5,1.1e-2],[5,1.4e-2],[6,9e-3],[7,8e-3],[8,7e-3],[8,1e-2],[9,6.5e-3],[10,6e-3],[10,8e-3],[11,5e-3],[12,4.5e-3],[14,4e-3],[15,6e-3],[16,3.5e-3],[18,3e-3],[20,2.8e-3],[22,2.2e-3],[24,2e-3],[26,1.8e-3],[28,1.6e-3],[30,1.5e-3],[32,1.3e-3],[35,1.2e-3],[37,1e-3],[40,7e-4],[43,4e-4],[46,3e-4],[50,2e-4],[55,1.5e-4],[60,1e-4],[60,2e-4],[65,7e-5],[70,5e-5],[70,1.5e-4],[75,4e-5],[80,3e-5],[90,2e-5],[100,1.5e-5],[100,8e-5],[110,1e-5],[115,2.2e-4],[120,7e-6],[130,5e-6],[130,5e-5],[140,4e-6],[150,3e-6],[150,3e-5],[160,2e-6],[170,1.5e-6],[170,2e-5],[180,1.2e-6],[190,1e-6],[200,1.5e-6],[200,1.5e-5],[210,2e-6],[220,1.2e-6],[240,1.1e-6],[250,1e-5],[340,1e-4],[345,1e-5]];
const spainOutCols = [[21,[2.5e-3,2.9e-3]],[25,[1.9e-3,2.1e-3]],[29,[1.4e-3,1.7e-3]],[33,[1.2e-3,1.4e-3]],[36,[9e-4,1.1e-3]],[42,[5e-4,6e-4]],[48,[2.5e-4,3.5e-4]],[53,[1.7e-4,2.3e-4]],[58,[1.2e-4,1.6e-4]],[63,[8e-5,1.2e-4]],[68,[6e-5,8e-5]],[73,[4.5e-5,6e-5,1e-4]],[85,[2.5e-5,4e-5]],[95,[1.7e-5,3e-5]],[105,[1.2e-5,2e-5]],[125,[6e-6,1e-5]],[140,[5e-6,8e-6]],[160,[2.5e-6,4e-6]],[180,[1.5e-6,2.5e-6]],[200,[1.1e-6,1.8e-6,3e-6]],[230,[1.3e-6,2e-6]]];
const spainOutFitA = [[1,4e-2],[1000,9e-5]];
const spainOutFitB = [[13,0.1],[158,1e-6]];

// ---------- U.K. ----------
const ukInPts = [[3,9e-2],[4,6e-2],[5,4.2e-2],[6,3e-2],[8,1.8e-2],[10,1.2e-2],[12,9e-3],[15,6e-3],[20,3.5e-3],[25,3e-3],[28,3e-3],[30,2e-3],[40,1.2e-3],[50,8e-4],[57,1.3e-3],[60,6e-4],[70,4e-4],[90,2.5e-4],[100,2e-4],[218,1.7e-4],[350,4e-5],[420,3e-5],[680,5e-5],[960,5e-5],[2400,1e-6],[2800,6e-7],[3000,1.2e-6],[3700,1.6e-6],[4200,3e-7],[4900,6e-7],[5800,3.4e-7],[6600,1.9e-7],[7500,2.5e-7],[8500,1.5e-7],[5500,5e-6],[7000,8e-7]];
const ukInRows = [[1.4e-7,[2200,2400,2600,2800,3000,3300,3600,3900,4300,4700,5200,5800]],[2e-7,[2150,2350,2550,2750,3000,3250,3500,3800,4100,4500,5000]],[3e-7,[2200,2450,2700,2950,3200,3500,3850,4200]]];
const ukInCols = [[2100,[3.5e-5,2.5e-5,1.8e-5,1.3e-5,9e-6,6.5e-6,4.5e-6,3.2e-6,2.3e-6,1.6e-6,1.1e-6,8e-7,5.5e-7,4e-7,2.8e-7,2e-7,1.4e-7]],[35,[1.35e-3,1.6e-3]],[45,[8.5e-4,1e-3]],[55,[6e-4,7e-4]],[65,[4.4e-4,5.2e-4]],[80,[3e-4,3.5e-4]],[95,[2.1e-4,2.5e-4]],[110,[1.3e-4,1.6e-4,2e-4]],[125,[1e-4,1.25e-4,1.55e-4]],[140,[8e-5,1e-4,1.25e-4]],[160,[6e-5,7.5e-5,9.5e-5,1.2e-4]],[180,[4.8e-5,6e-5,7.5e-5,9.5e-5]],[200,[3.8e-5,4.8e-5,6e-5,7.6e-5]],[225,[3e-5,3.8e-5,4.8e-5,6.1e-5]],[250,[2.4e-5,3e-5,3.8e-5,4.9e-5,6.5e-5]],[280,[1.9e-5,2.4e-5,3.1e-5,4e-5,5.2e-5]],[320,[1.5e-5,1.9e-5,2.5e-5,3.2e-5,4.2e-5,5.5e-5]],[360,[1.2e-5,1.55e-5,2e-5,2.6e-5,3.4e-5,4.5e-5]],[400,[9.5e-6,1.25e-5,1.6e-5,2.1e-5,2.8e-5,3.7e-5]],[450,[7.5e-6,1e-5,1.3e-5,1.7e-5,2.3e-5,3e-5,4e-5]],[500,[6e-6,8e-6,1.05e-5,1.4e-5,1.85e-5,2.5e-5]],[560,[4.7e-6,6.3e-6,8.5e-6,1.15e-5,1.5e-5,2e-5,2.7e-5]],[630,[3.7e-6,5e-6,6.7e-6,9e-6,1.2e-5,1.6e-5,2.2e-5]],[700,[2.9e-6,4e-6,5.4e-6,7.3e-6,1e-5,1.35e-5,1.9e-5]],[800,[2.2e-6,3e-6,4.1e-6,5.6e-6,7.6e-6,1.05e-5,1.45e-5]],[900,[1.7e-6,2.4e-6,3.3e-6,4.5e-6,6.2e-6,8.5e-6,1.2e-5]],[1000,[1.4e-6,1.9e-6,2.6e-6,3.6e-6,5e-6,7e-6,1e-5,1.4e-5]],[1150,[1.1e-6,1.5e-6,2.1e-6,2.9e-6,4e-6,5.5e-6,7.7e-6,1.1e-5]],[1300,[8.5e-7,1.2e-6,1.65e-6,2.3e-6,3.2e-6,4.5e-6,6.3e-6,9e-6]],[1450,[7e-7,1e-6,1.4e-6,1.95e-6,2.7e-6,3.8e-6,5.3e-6,7.5e-6,1.1e-5]],[1600,[6e-7,8.5e-7,1.2e-6,1.7e-6,2.4e-6,3.4e-6,4.8e-6,7e-6]],[1800,[5e-7,7e-7,1e-6,1.4e-6,2e-6,2.8e-6,4e-6,6e-6,9e-6]],[1950,[4.5e-7,6.5e-7,9e-7,1.3e-6,1.8e-6,2.6e-6,3.7e-6,5.5e-6]],[2300,[1.2e-7,1.7e-7,2.5e-7,3.6e-7,5e-7]],[2600,[1.2e-7,1.7e-7,2.5e-7,3.6e-7,5.5e-7]],[2900,[1.2e-7,1.7e-7,2.5e-7,3.6e-7,6e-7,1e-6]],[3300,[1.2e-7,1.7e-7,2.5e-7,3.6e-7,5.5e-7]],[3700,[1.3e-7,1.9e-7,2.8e-7,4.2e-7]],[4200,[1.2e-7,1.7e-7,2.5e-7,4e-7,7e-7]],[4800,[1.3e-7,1.9e-7,2.8e-7]],[5500,[1.2e-7,1.8e-7,3e-7]]];
const ukInFit = [[2.9,0.1],[7400,1e-7]];
const ukOutPts = [[1.5,7e-2],[2,5.5e-2],[3,4e-2],[4,3.5e-2],[5,3e-2],[6,2.7e-2],[8,2.2e-2],[10,1.9e-2],[12,1.7e-2],[15,1.5e-2],[18,1.3e-2],[20,1.2e-2],[22,1.1e-2],[25,1e-2],[28,9e-3],[30,8e-3],[33,7e-3],[36,5.5e-3],[40,4.5e-3],[45,3.5e-3],[50,2.6e-3],[55,2e-3],[60,1.5e-3],[65,1.2e-3],[70,9e-4],[75,7e-4],[80,5.5e-4],[90,4e-4],[100,3e-4],[110,2.5e-4],[110,1.5e-4],[120,2e-4],[120,3e-4],[130,1.2e-4],[130,2.5e-4],[140,8e-5],[150,6e-5],[150,1.5e-4],[160,4e-5],[170,3e-5],[170,8e-5],[180,2e-5],[180,5e-5],[200,1.5e-5],[200,3e-5],[213,1.4e-4],[220,1e-5],[230,2e-5],[250,6e-6],[250,1.5e-5],[260,3e-5],[280,4e-6],[280,1e-5],[300,3e-6],[300,8e-6],[300,2e-5],[300,1.2e-6],[320,2e-6],[330,5e-6],[350,1.5e-6],[350,1e-5],[380,3e-6],[400,1e-6],[400,6e-6],[420,2e-6],[450,1e-5],[460,4e-5],[760,1.1e-5],[900,1e-6]];
const ukOutCols = [[26,[9.5e-3,1.05e-2]],[32,[7.5e-3,8.5e-3]],[38,[5e-3,5.5e-3]],[42,[4e-3,4.3e-3]],[48,[2.9e-3,3.2e-3]],[52,[2.3e-3,2.5e-3]],[58,[1.7e-3,1.9e-3]],[68,[1e-3,1.2e-3]],[78,[6e-4,7.5e-4]],[85,[4.5e-4,5e-4]],[95,[3.3e-4,3.8e-4]],[105,[2.5e-4,3.2e-4]],[115,[1.8e-4,2.4e-4]],[135,[9e-5,1.4e-4]],[145,[6.5e-5,1e-4]],[165,[4e-5,6e-5]],[190,[2.5e-5,4e-5]],[210,[1.2e-5,2e-5]],[240,[8e-6,1.2e-5,2e-5]],[270,[5e-6,8e-6,1.5e-5]],[310,[3e-6,5e-6,1e-5]],[360,[2e-6,4e-6,8e-6]],[420,[1.3e-6,3e-6]],[500,[1.5e-6,5e-6]]];
const ukOutFitA = [[1,9e-2],[1000,1.1e-3]];
const ukOutFitB = [[15,0.1],[490,1e-6]];

// ---------- assemble ----------
function gather(pts, rows, cols) {
  const out = pts.slice();
  (rows || []).forEach(([y, xs]) => xs.forEach(x => out.push([x, y])));
  (cols || []).forEach(([x, ys]) => ys.forEach(y => out.push([x, y])));
  return out;
}
const panels = [
  {row:0,col:0,pts:gather(brazilInPts,brazilInRows,brazilInCols),fits:[[brazilInFit,'solid']]},
  {row:0,col:1,pts:gather(brazilOutPts,null,brazilOutCols),fits:[[brazilOutFitA,'solid'],[brazilOutFitB,'solid']]},
  {row:1,col:0,pts:gather(chileInPts,chileInRows,chileInCols),fits:[[chileInFit,'solid']]},
  {row:1,col:1,pts:gather(chileOutPts,null,chileOutCols),fits:[[chileOutFitA,'solid'],[chileOutFitB,'dashed']]},
  {row:2,col:0,pts:gather(greeceInPts,greeceInRows,greeceInCols),fits:[[greeceInFit,'solid']]},
  {row:2,col:1,pts:gather(greeceOutPts,null,greeceOutCols),fits:[[greeceOutFitA,'solid'],[greeceOutFitB,'dashed']]},
  {row:3,col:0,pts:gather(italyInPts,null,italyInCols),fits:[[italyInFit,'solid']]},
  {row:3,col:1,pts:gather(italyOutPts,null,italyOutCols),fits:[[italyOutFitA,'solid'],[italyOutFitB,'dashed']]},
  {row:4,col:0,pts:gather(koreaInPts,koreaInRows,koreaInCols),fits:[[koreaInFit,'solid']]},
  {row:4,col:1,pts:gather(koreaOutPts,null,koreaOutCols),fits:[[koreaOutFitA,'solid'],[koreaOutFitB,'dashed']]},
  {row:5,col:0,pts:gather(spainInPts,spainInRows,spainInCols),fits:[[spainInFit,'solid']]},
  {row:5,col:1,pts:gather(spainOutPts,null,spainOutCols),fits:[[spainOutFitA,'solid'],[spainOutFitB,'dashed']]},
  {row:6,col:0,pts:gather(ukInPts,ukInRows,ukInCols),fits:[[ukInFit,'solid']]},
  {row:6,col:1,pts:gather(ukOutPts,null,ukOutCols),fits:[[ukOutFitA,'solid'],[ukOutFitB,'dashed']]}
];

const FONT = '"Liberation Serif","Times New Roman",serif';
const LEFTS = [47, 343], W = 216, TOP0 = 96, STEP = 207.2, H = 119;
const RICH = {
  b:{fontFamily:FONT,fontSize:14,color:'#000',verticalAlign:'bottom'},
  s:{fontFamily:FONT,fontSize:10,color:'#000',verticalAlign:'bottom',padding:[0,0,7,0]}
};
function fmt(v){ const e = Math.round(Math.log10(v)); return '{b|10}{s|' + (e < 0 ? '\u2212' + (-e) : e) + '}'; }
function minors(ticks){ const r=[]; for(let i=0;i<ticks.length-1;i++){ for(let m=2;m<=9;m++) r.push(m*ticks[i]); } return r; }

function renderTicks(params, api){
  const cs = params.coordSys;
  const p = api.coord([api.value(0), api.value(1)]);
  const o = api.value(2), L = api.value(3);
  const st = {stroke:'#000', lineWidth:0.8};
  if (o === 0) return {type:'group', children:[
    {type:'line', shape:{x1:p[0], y1:cs.y+cs.height, x2:p[0], y2:cs.y+cs.height-L}, style:st},
    {type:'line', shape:{x1:p[0], y1:cs.y, x2:p[0], y2:cs.y+L}, style:st}]};
  return {type:'group', children:[
    {type:'line', shape:{x1:cs.x, y1:p[1], x2:cs.x+L, y2:p[1]}, style:st},
    {type:'line', shape:{x1:cs.x+cs.width, y1:p[1], x2:cs.x+cs.width-L, y2:p[1]}, style:st}]};
}

const grid=[], xAxis=[], yAxis=[], series=[], graphic=[];
columnTitles.forEach((t,c)=>graphic.push({type:'text', x:LEFTS[c]+W/2, y:21, style:{text:t, font:'bold 25px '+FONT, fill:'#000', textAlign:'center', textVerticalAlign:'middle'}}));
panels.forEach((p,i)=>{
  const left = LEFTS[p.col], top = TOP0 + STEP*p.row;
  const xt = p.col===0 ? inTicksX : outTicksX;
  const yt = p.col===0 ? inTicksY : outTicksY;
  grid.push({left:left, top:top, width:W, height:H, show:true, borderColor:'#000', borderWidth:1.2, backgroundColor:'transparent'});
  xAxis.push({type:'log', logBase:10, gridIndex:i, min:xt[0], max:xt[xt.length-1], position:'bottom',
    axisLine:{show:false}, axisTick:{show:false}, splitLine:{show:false},
    axisLabel:{margin:5, formatter:fmt, rich:RICH, showMinLabel:true, showMaxLabel:true}});
  yAxis.push({type:'log', logBase:10, gridIndex:i, min:yt[0], max:yt[yt.length-1], position:'left',
    axisLine:{show:false}, axisTick:{show:false}, splitLine:{show:false},
    axisLabel:{margin:3, formatter:fmt, rich:RICH, showMinLabel:true, showMaxLabel:true}});
  graphic.push({type:'text', x:left+W/2, y:top-19, style:{text:countries[p.row], font:'21px '+FONT, fill:'#000', textAlign:'center', textVerticalAlign:'middle'}});
  const tickData = [];
  xt.forEach(v=>tickData.push([v, yt[0], 0, 4]));
  minors(xt).forEach(v=>tickData.push([v, yt[0], 0, 2]));
  yt.forEach(v=>tickData.push([xt[0], v, 1, 4]));
  minors(yt).forEach(v=>tickData.push([xt[0], v, 1, 2]));
  series.push({type:'custom', xAxisIndex:i, yAxisIndex:i, data:tickData, renderItem:renderTicks, silent:true, animation:false, encode:{x:0,y:1}});
  series.push({type:'scatter', xAxisIndex:i, yAxisIndex:i, data:p.pts, symbol:'rect', symbolSize: p.col===0 ? 2.5 : 2.2, itemStyle:{color:'#000'}, silent:true, animation:false});
  p.fits.forEach(([d,ty])=>series.push({type:'line', xAxisIndex:i, yAxisIndex:i, data:d, symbol:'none', clip:true, silent:true, animation:false,
    lineStyle:{color:'#000', width:1, type: ty==='dashed' ? [3,2] : 'solid'}}));
});

const chart = echarts.init(document.getElementById('c'), null, {renderer:'canvas'});
chart.setOption({backgroundColor:'#fff', animation:false, grid, xAxis, yAxis, series, graphic});
</script></body></html>
